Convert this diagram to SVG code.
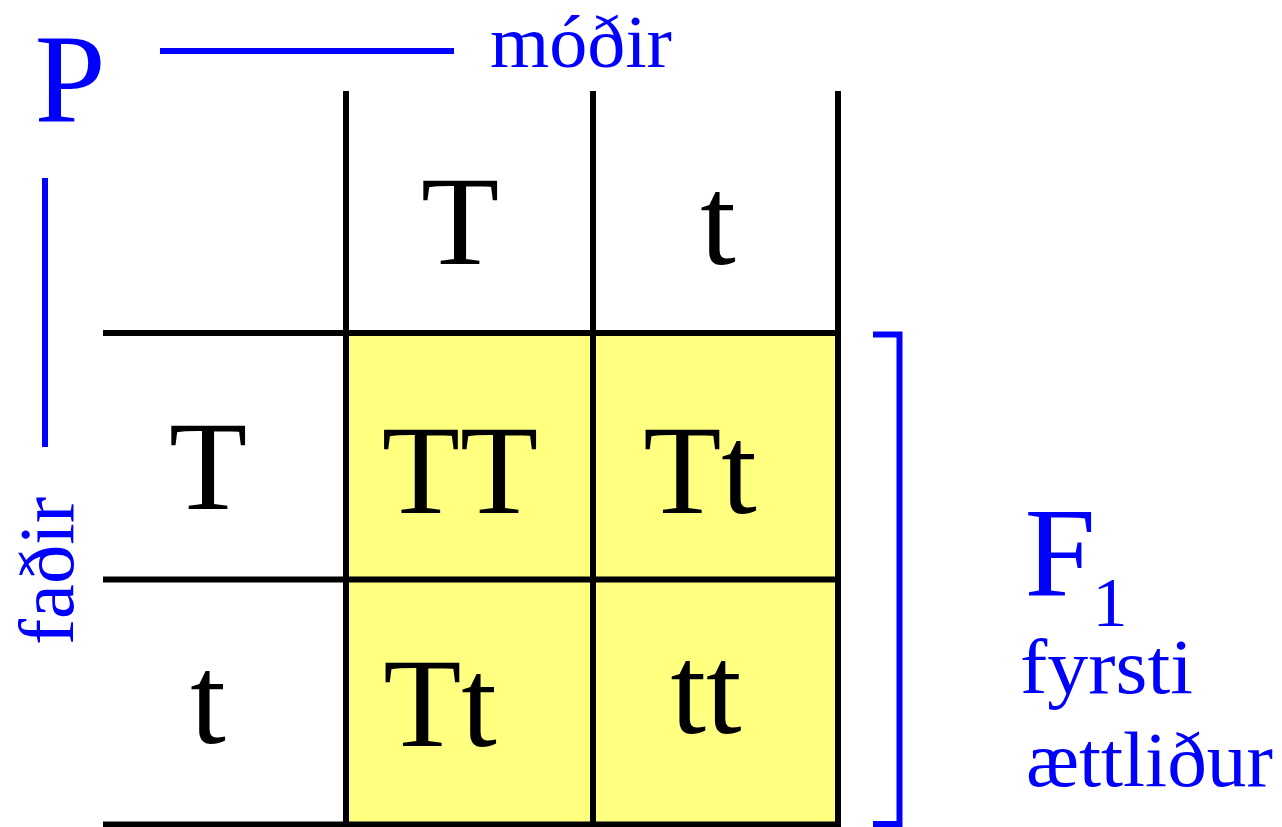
<svg xmlns="http://www.w3.org/2000/svg" width="1282" height="827" viewBox="0 0 1282 827">
  <style>
    .big { font-family: "Liberation Serif", "Times New Roman", serif; font-size: 128px; fill: #000; text-anchor: middle; }
    .blue { fill: #0000FF; }
    .lbl { font-family: "Liberation Serif", "Times New Roman", serif; font-size: 79px; fill: #0000FF; }
    .grid { stroke: #000; stroke-width: 6; fill: none; }
    .bl { stroke: #0000FF; stroke-width: 6; fill: none; }
  </style>
  <rect width="1282" height="827" fill="#fff"/>

  <g id="cells">
    <rect x="346" y="333" width="492" height="492" fill="#FFFF80"/>
  </g>

  <g id="connectors">
    <line class="grid" x1="346" y1="91" x2="346" y2="827"/>
    <line class="grid" x1="593" y1="91" x2="593" y2="827"/>
    <line class="grid" x1="838" y1="91" x2="838" y2="827"/>
    <line class="grid" x1="103" y1="333" x2="841" y2="333"/>
    <line class="grid" x1="103" y1="579.5" x2="841" y2="579.5"/>
    <line class="grid" x1="103" y1="824.5" x2="841" y2="824.5"/>
    <line class="bl" x1="160" y1="51" x2="454" y2="51"/>
    <line class="bl" x1="45" y1="178" x2="45" y2="447"/>
    <polyline class="bl" points="873,334.5 899.5,334.5 899.5,824 873,824"/>
  </g>

  <g id="P">
    <text class="big blue" x="70" y="122">P</text>
  </g>
  <g id="modir">
    <text class="lbl" x="490" y="67" style="font-size:74px" textLength="182" lengthAdjust="spacingAndGlyphs">móðir</text>
  </g>
  <g id="fadir">
    <text class="lbl" transform="translate(73,645) rotate(-90)" x="0" y="0" textLength="148" lengthAdjust="spacingAndGlyphs">faðir</text>
  </g>

  <g id="head-T"><text class="big" x="460" y="264">T</text></g>
  <g id="head-t"><text class="big" x="718" y="264">t</text></g>
  <g id="row-T"><text class="big" x="208" y="509">T</text></g>
  <g id="row-t"><text class="big" x="208" y="743">t</text></g>
  <g id="cell-TT"><text class="big" x="460" y="513">TT</text></g>
  <g id="cell-Tt1"><text class="big" x="700" y="513">Tt</text></g>
  <g id="cell-Tt2"><text class="big" x="440" y="746">Tt</text></g>
  <g id="cell-tt"><text class="big" x="706" y="733">tt</text></g>

  <g id="F1">
    <text class="big blue" x="1060" y="595">F</text>
    <text class="big blue" x="1110" y="626" style="font-size:70px">1</text>
    <text class="lbl" x="1020" y="693" textLength="173" lengthAdjust="spacingAndGlyphs">fyrsti</text>
    <text class="lbl" x="1026" y="786" textLength="247" lengthAdjust="spacingAndGlyphs">ættliður</text>
  </g>
</svg>
